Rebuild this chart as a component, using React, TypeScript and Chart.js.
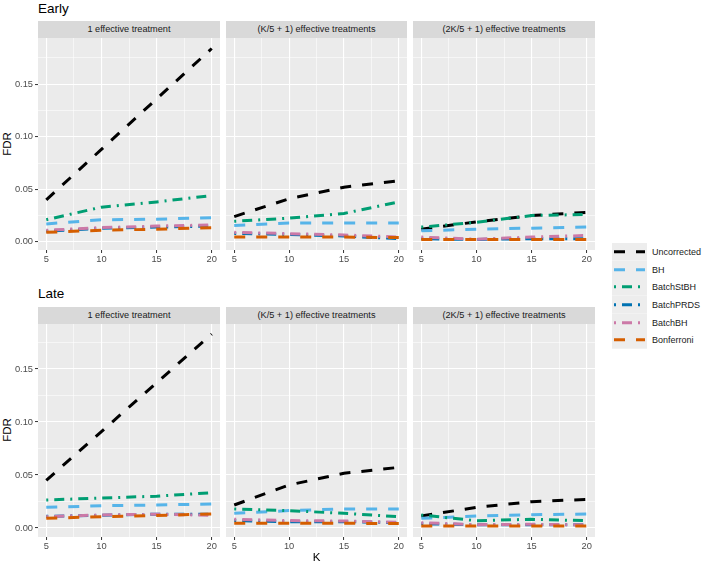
import React, { useEffect, useRef } from "react";
import { Chart, registerables } from "chart.js";

Chart.register(...registerables);

// ---------- data ----------
const K = [5, 10, 15, 20];
const methods = ["Uncorrected", "BH", "BatchStBH", "BatchPRDS", "BatchBH", "Bonferroni"];
const methodColors = ["#000000", "#56B4E9", "#009E73", "#0072B2", "#CC79A7", "#D55E00"];
const methodDashes = [[11, 11], [11, 11], [2, 6, 10, 6], [2, 6, 10, 6], [2, 6, 10, 6], [11, 11]];
const facetLabels = ["1 effective treatment", "(K/5 + 1) effective treatments", "(2K/5 + 1) effective treatments"];
const rowLabels = ["Early", "Late"];
const xMajorTicks = [5, 10, 15, 20];
const xMinorTicks = [7.5, 12.5, 17.5];
const yMajorTicks = [0, 0.05, 0.1, 0.15];
const yMinorTicks = [0.025, 0.075, 0.125, 0.175];

// series order: Uncorrected, BH, BatchStBH, BatchPRDS, BatchBH, Bonferroni
const earlyOne = [
  [0.040, 0.088, 0.136, 0.184],
  [0.017, 0.021, 0.0215, 0.023],
  [0.021, 0.033, 0.038, 0.044],
  [0.010, 0.013, 0.014, 0.015],
  [0.011, 0.0135, 0.015, 0.016],
  [0.009, 0.011, 0.012, 0.0135],
];
const earlyKFifth = [
  [0.024, 0.041, 0.052, 0.058],
  [0.0155, 0.018, 0.018, 0.018],
  [0.0195, 0.0225, 0.027, 0.038],
  [0.008, 0.007, 0.0055, 0.003],
  [0.009, 0.0078, 0.0065, 0.0045],
  [0.0045, 0.0045, 0.0045, 0.004],
];
const earlyTwoKFifth = [
  [0.012, 0.019, 0.025, 0.028],
  [0.0105, 0.012, 0.013, 0.014],
  [0.014, 0.0185, 0.025, 0.026],
  [0.003, 0.0022, 0.003, 0.003],
  [0.0045, 0.0025, 0.0045, 0.006],
  [0.0022, 0.0022, 0.0022, 0.0022],
];
const lateOne = [
  [0.045, 0.091, 0.137, 0.183],
  [0.0195, 0.021, 0.0217, 0.0226],
  [0.0264, 0.0283, 0.030, 0.0333],
  [0.011, 0.012, 0.013, 0.013],
  [0.0107, 0.0123, 0.013, 0.012],
  [0.0091, 0.0107, 0.0117, 0.0133],
];
const lateKFifth = [
  [0.0217, 0.0406, 0.0516, 0.0572],
  [0.0138, 0.0164, 0.018, 0.018],
  [0.0179, 0.0164, 0.0138, 0.0107],
  [0.007, 0.006, 0.006, 0.005],
  [0.0082, 0.007, 0.0066, 0.0053],
  [0.0044, 0.0044, 0.0044, 0.0042],
];
const lateTwoKFifth = [
  [0.0113, 0.0195, 0.0248, 0.027],
  [0.0091, 0.0113, 0.0126, 0.0132],
  [0.0123, 0.0069, 0.0082, 0.0069],
  [0.004, 0.003, 0.003, 0.003],
  [0.005, 0.0031, 0.0035, 0.003],
  [0.0019, 0.0019, 0.0019, 0.0019],
];

// ---------- layout ----------
const FONT = "'Liberation Sans', Arial, Helvetica, sans-serif";
const colLefts = [38, 226, 413];
const colWidths = [182, 181, 182];
const rows = [
  { title: "Early", titleTop: 2, stripTop: 21, plotTop: 38, plotH: 212, yMin: -0.0078, yMax: 0.194, fdrY: 144, data: [earlyOne, earlyKFifth, earlyTwoKFifth] },
  { title: "Late", titleTop: 287, stripTop: 307, plotTop: 324, plotH: 213, yMin: -0.0085, yMax: 0.1925, fdrY: 430, data: [lateOne, lateKFifth, lateTwoKFifth] },
];
const Y_AXIS_W = 38;
const X_AXIS_H = 16;

const isMajorX = (v: number) => xMajorTicks.some((t) => Math.abs(t - v) < 1e-9);
const isMajorY = (v: number) => yMajorTicks.some((t) => Math.abs(t - v) < 1e-9);

const panelBg = {
  id: "panelBg",
  beforeDraw(chart: any) {
    const { ctx, chartArea: a } = chart;
    ctx.save();
    ctx.fillStyle = "#EBEBEB";
    ctx.fillRect(a.left, a.top, a.right - a.left, a.bottom - a.top);
    ctx.restore();
  },
};

type PanelProps = {
  series: number[][];
  showY: boolean;
  yMin: number;
  yMax: number;
  left: number;
  top: number;
  width: number;
  height: number;
};

function Panel({ series, showY, yMin, yMax, left, top, width, height }: PanelProps) {
  const ref = useRef<HTMLCanvasElement | null>(null);
  useEffect(() => {
    if (!ref.current) return;
    const chart = new Chart(ref.current, {
      type: "line",
      data: {
        datasets: methods.map((m, i) => ({
          label: m,
          data: K.map((k, j) => ({ x: k, y: series[i][j] })),
          borderColor: methodColors[i],
          backgroundColor: methodColors[i],
          borderDash: methodDashes[i],
          borderWidth: 3,
          borderCapStyle: "butt",
          pointRadius: 0,
          fill: false,
          tension: 0,
          order: methods.length - 1 - i,
        })),
      },
      options: {
        animation: false,
        responsive: false,
        maintainAspectRatio: false,
        events: [],
        layout: { padding: 0 },
        plugins: { legend: { display: false }, tooltip: { enabled: false }, title: { display: false } },
        scales: {
          x: {
            type: "linear",
            min: 4.25,
            max: 20.75,
            afterBuildTicks: (s: any) => {
              s.ticks = [...xMajorTicks, ...xMinorTicks].sort((a, b) => a - b).map((v) => ({ value: v }));
            },
            afterFit: (s: any) => {
              s.height = X_AXIS_H;
              s.paddingLeft = 0;
              s.paddingRight = 0;
            },
            ticks: {
              autoSkip: false,
              maxRotation: 0,
              minRotation: 0,
              padding: 1,
              color: "#4D4D4D",
              font: { family: FONT, size: 9.3 },
              callback: (v: any) => (isMajorX(Number(v)) ? String(v) : ""),
            },
            grid: {
              color: "#FFFFFF",
              lineWidth: (c: any) => (c.tick && isMajorX(c.tick.value) ? 1.1 : 0.55),
              tickColor: (c: any) => (c.tick && isMajorX(c.tick.value) ? "#333333" : "rgba(0,0,0,0)"),
              tickLength: 3,
              tickWidth: 1,
              drawTicks: true,
            },
            border: { display: false },
          },
          y: {
            type: "linear",
            min: yMin,
            max: yMax,
            afterBuildTicks: (s: any) => {
              s.ticks = [...yMajorTicks, ...yMinorTicks].sort((a, b) => a - b).map((v) => ({ value: v }));
            },
            afterFit: (s: any) => {
              s.width = showY ? Y_AXIS_W : 0;
              s.paddingTop = 0;
              s.paddingBottom = 0;
            },
            ticks: {
              display: showY,
              autoSkip: false,
              padding: 2,
              color: "#4D4D4D",
              font: { family: FONT, size: 9.3 },
              callback: (v: any) => (isMajorY(Number(v)) ? Number(v).toFixed(2) : ""),
            },
            grid: {
              color: "#FFFFFF",
              lineWidth: (c: any) => (c.tick && isMajorY(c.tick.value) ? 1.1 : 0.55),
              tickColor: (c: any) => (c.tick && isMajorY(c.tick.value) ? "#333333" : "rgba(0,0,0,0)"),
              tickLength: 3,
              tickWidth: 1,
              drawTicks: showY,
            },
            border: { display: false },
          },
        },
      } as any,
      plugins: [panelBg],
    } as any);
    return () => chart.destroy();
  }, [series, showY, yMin, yMax]);
  return (
    <canvas
      ref={ref}
      width={width}
      height={height}
      style={{ position: "absolute", left, top, width, height, display: "block" }}
    />
  );
}

function LegendKey({ color, dash }: { color: string; dash: number[] }) {
  return (
    <svg width={35} height={17.7} style={{ display: "block" }}>
      <rect x={0} y={0} width={35} height={17.7} fill="#EDEDED" />
      <line x1={2} y1={8.85} x2={33} y2={8.85} stroke={color} strokeWidth={3} strokeDasharray={dash.join(" ")} strokeLinecap="butt" />
    </svg>
  );
}

export default function App() {
  const textBase: React.CSSProperties = { position: "absolute", fontFamily: FONT, whiteSpace: "nowrap" };
  return (
    <div style={{ position: "absolute", left: 0, top: 0, width: 709, height: 565, background: "#FFFFFF", overflow: "hidden" }}>
      {rows.map((r, ri) => (
        <React.Fragment key={ri}>
          <div style={{ ...textBase, left: 38, top: r.titleTop, fontSize: 13.5, lineHeight: "14px", color: "#000" }}>{rowLabels[ri]}</div>
          <div
            style={{
              ...textBase,
              left: 7,
              top: r.fdrY,
              fontSize: 11.5,
              color: "#000",
              transform: "translate(-50%, -50%) rotate(-90deg)",
              lineHeight: "12px",
            }}
          >
            FDR
          </div>
          {facetLabels.map((f, ci) => (
            <div
              key={"s" + ci}
              style={{
                ...textBase,
                left: colLefts[ci],
                top: r.stripTop,
                width: colWidths[ci],
                height: r.plotTop - r.stripTop,
                lineHeight: r.plotTop - r.stripTop + "px",
                background: "#D9D9D9",
                color: "#1A1A1A",
                fontSize: 9.2,
                textAlign: "center",
              }}
            >
              {f}
            </div>
          ))}
          {r.data.map((series, ci) => {
            const showY = ci === 0;
            const left = showY ? colLefts[ci] - Y_AXIS_W : colLefts[ci];
            const width = showY ? colWidths[ci] + Y_AXIS_W : colWidths[ci];
            return (
              <Panel
                key={"p" + ci}
                series={series}
                showY={showY}
                yMin={r.yMin}
                yMax={r.yMax}
                left={left}
                top={r.plotTop}
                width={width}
                height={r.plotH + X_AXIS_H}
              />
            );
          })}
        </React.Fragment>
      ))}
      <div style={{ ...textBase, left: 316.5, top: 557, fontSize: 11.5, color: "#000", transform: "translate(-50%, -50%)", lineHeight: "12px" }}>K</div>
      <div style={{ position: "absolute", left: 612, top: 243 }}>
        {methods.map((m, i) => (
          <div key={m} style={{ display: "flex", alignItems: "center", height: 17.7 }}>
            <LegendKey color={methodColors[i]} dash={methodDashes[i]} />
            <span style={{ fontFamily: FONT, fontSize: 9, color: "#1A1A1A", marginLeft: 5, whiteSpace: "nowrap" }}>{m}</span>
          </div>
        ))}
      </div>
    </div>
  );
}
